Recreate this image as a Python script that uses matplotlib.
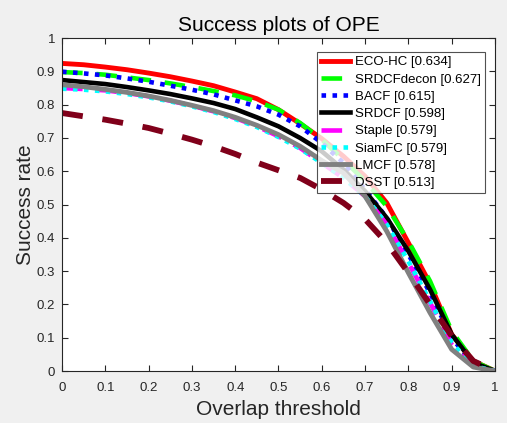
import numpy as np
import matplotlib.pyplot as plt

plt.rcParams['font.family'] = ['Liberation Sans', 'DejaVu Sans']

''' Data '''
thresholds = np.linspace(0, 1, 21)

eco_hc = [0.924, 0.920, 0.913, 0.905, 0.895, 0.884, 0.871, 0.857, 0.838, 0.818, 0.785,
          0.743, 0.698, 0.645, 0.585, 0.505, 0.385, 0.262, 0.110, 0.030, 0.0]
srdcf_decon = [0.898, 0.895, 0.890, 0.882, 0.874, 0.864, 0.853, 0.841, 0.828, 0.810, 0.785,
               0.745, 0.695, 0.635, 0.570, 0.495, 0.390, 0.270, 0.120, 0.030, 0.0]
bacf = [0.899, 0.894, 0.888, 0.879, 0.869, 0.857, 0.845, 0.831, 0.813, 0.795, 0.770,
        0.735, 0.685, 0.625, 0.545, 0.460, 0.350, 0.235, 0.100, 0.020, 0.0]
srdcf = [0.874, 0.868, 0.862, 0.853, 0.843, 0.832, 0.819, 0.805, 0.787, 0.762, 0.735,
         0.700, 0.660, 0.605, 0.540, 0.460, 0.360, 0.245, 0.110, 0.025, 0.0]
staple = [0.850, 0.847, 0.843, 0.835, 0.825, 0.812, 0.797, 0.780, 0.760, 0.735, 0.705,
          0.670, 0.625, 0.580, 0.525, 0.440, 0.325, 0.205, 0.080, 0.015, 0.0]
siamfc = [0.848, 0.845, 0.840, 0.832, 0.822, 0.810, 0.795, 0.778, 0.757, 0.733, 0.703,
          0.668, 0.625, 0.580, 0.525, 0.440, 0.330, 0.210, 0.085, 0.015, 0.0]
lmcf = [0.860, 0.854, 0.846, 0.837, 0.826, 0.813, 0.798, 0.782, 0.762, 0.738, 0.710,
        0.675, 0.632, 0.595, 0.525, 0.420, 0.295, 0.175, 0.065, 0.012, 0.0]
dsst = [0.775, 0.765, 0.755, 0.743, 0.730, 0.713, 0.695, 0.675, 0.652, 0.626, 0.603,
        0.580, 0.545, 0.505, 0.456, 0.385, 0.295, 0.200, 0.105, 0.030, 0.0]

labels = ['ECO-HC [0.634]', 'SRDCFdecon [0.627]', 'BACF [0.615]', 'SRDCF [0.598]',
          'Staple [0.579]', 'SiamFC [0.579]', 'LMCF [0.578]', 'DSST [0.513]']
series = [eco_hc, srdcf_decon, bacf, srdcf, staple, siamfc, lmcf, dsst]
tick_labels = ['0', '0.1', '0.2', '0.3', '0.4', '0.5', '0.6', '0.7', '0.8', '0.9', '1']

#styles: colour, linestyle, width
styles = [((1, 0, 0), '-', 3.5),
          ((0, 1, 0), (0, (4.5, 3)), 3.3),
          ((0, 0, 1), (0, (1, 1.4)), 3.3),
          ((0, 0, 0), '-', 3.3),
          ((1, 0, 1), (0, (4.5, 3)), 3.3),
          ((0, 1, 1), (0, (1, 1.4)), 3.3),
          ((0.5, 0.5, 0.5), '-', 3.5),
          ((0.5, 0, 0.1), (0, (3.6, 3.4)), 4.2)]

''' Plot '''
fig = plt.figure(figsize=(5.07, 4.23), dpi=100, facecolor='#f0f0f0')
ax = fig.add_axes([0.1223, 0.1229, 0.854, 0.787])

for vals, lab, (col, ls, lw) in zip(series, labels, styles):
    ax.plot(thresholds, vals, color=col, ls=ls, lw=lw, label=lab)

ax.set_xlim(0, 1)
ax.set_ylim(0, 1)
ax.set_xticks(np.arange(0, 1.01, 0.1))
ax.set_yticks(np.arange(0, 1.01, 0.1))
ax.set_xticklabels(tick_labels)
ax.set_yticklabels(tick_labels)
ax.tick_params(direction='in', top=True, right=True, length=4, width=0.8,
               labelsize=9.5, colors='#262626')
ax.tick_params(axis='x', pad=8)
ax.tick_params(axis='y', pad=5)
for sp in ax.spines.values():
    sp.set_color('#262626')
    sp.set_linewidth(0.8)

ax.set_title('Success plots of OPE', fontsize=15, color='#000000', pad=5)
ax.set_xlabel('Overlap threshold', fontsize=15, color='#262626', labelpad=4)
ax.set_ylabel('Success rate', fontsize=15, color='#262626', labelpad=1)

leg = ax.legend(loc='upper right', bbox_to_anchor=(0.977, 0.958), fontsize=9.5,
                frameon=True, fancybox=False, handlelength=2.2, handletextpad=0.4,
                labelspacing=0.38, borderpad=0.3, borderaxespad=0)
leg.get_frame().set_edgecolor('#262626')
leg.get_frame().set_linewidth(0.8)

plt.savefig('out.png', dpi=100, facecolor=fig.get_facecolor())
